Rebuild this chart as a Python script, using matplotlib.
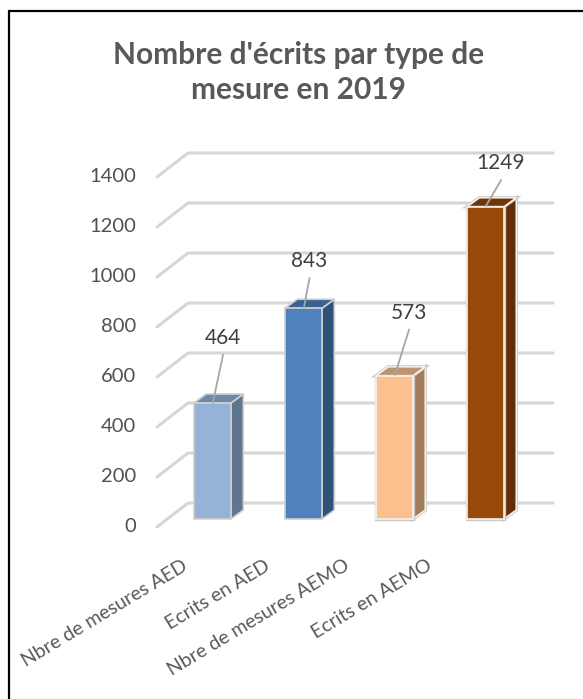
# Nombre d'ecrits par type de mesure - fake 3D column chart
import matplotlib
matplotlib.use("Agg")
import matplotlib.pyplot as plt
from matplotlib.patches import Polygon
import matplotlib.patheffects as pe

plt.rcParams["font.family"] = ["Lato", "DejaVu Sans"]

categories = ["Nbre de mesures AED", "Ecrits en AED",
              "Nbre de mesures AEMO", "Ecrits en AEMO"]
values = [464, 843, 573, 1249]
y_ticks = [0, 200, 400, 600, 800, 1000, 1200, 1400]

front_colors = ["#95B3D7", "#4F81BD", "#FCC08E", "#984807"]
side_colors = ["#5F7590", "#2F5279", "#A37C5B", "#622D04"]
top_colors = ["#6E88AB", "#3A6190", "#BE9370", "#723605"]
edge_colors = ["#CFCFCF", "#CFCFCF", "#F6F2EE", "#F6F2EE"]

W, H = 583, 699
PX_X = 91.0      # pixels between two categories
PX_Y = 0.25      # pixels for one unit of value
X0 = 212.5       # pixel of first category
Y0 = 519.0       # pixel of value 0 at the bar front

fig = plt.figure(figsize=(W / 100, H / 100), dpi=100)
ax = fig.add_axes([0, 0, 1, 1])
ax.set_xlim(-X0 / PX_X, (W - X0) / PX_X)
ax.set_ylim((Y0 - H) / PX_Y, Y0 / PX_Y)
ax.axis("off")


def dx(px):
    return px / PX_X


def dy(px):
    return px / PX_Y


def to_x(px):
    return (px - X0) / PX_X


# frame, only left and top show in the picture
ax.plot([to_x(8.5), to_x(8.5), to_x(W)], [dy(Y0 - H), dy(Y0 - 10.5), dy(Y0 - 10.5)],
        color="black", lw=1.6, solid_joinstyle="miter", zorder=1)

# wall and floor gridlines
for v in y_ticks:
    ax.plot([to_x(157), to_x(188), to_x(553)],
            [v + dy(-8), v + dy(16), v + dy(16)],
            color="#D6D6D6", lw=2.2, solid_capstyle="round", zorder=1)
    ax.text(to_x(136), v + dy(-8), str(v), ha="right", va="center",
            fontsize=14.5, color="#505050")

# bars with side and top faces
width = 37 / PX_X
depth_x = dx(12.3)
depth_y = dy(9)
for i, v in enumerate(values):
    l = i - width / 2
    r = i + width / 2
    outline = [pe.withStroke(linewidth=2.4, foreground="#C8C8C8")] if i >= 2 else []
    side = Polygon([(r, 0), (r + depth_x, depth_y), (r + depth_x, v + depth_y), (r, v)],
                   facecolor=side_colors[i], edgecolor=edge_colors[i], lw=1.2, zorder=2)
    top = Polygon([(l, v), (l + depth_x, v + depth_y), (r + depth_x, v + depth_y), (r, v)],
                  facecolor=top_colors[i], edgecolor=edge_colors[i], lw=1.2, zorder=2)
    side.set_path_effects(outline)
    top.set_path_effects(outline)
    ax.add_patch(side)
    ax.add_patch(top)
    bars = ax.bar(i, v, width=width, color=front_colors[i],
                  edgecolor=edge_colors[i], lw=1.2, zorder=3)
    bars[0].set_path_effects(outline)

# data labels with leader lines
label_dx = [10.5, 6, 14.5, 15.5]
label_dy = [65, 47, 63, 43.5]
for i, v in enumerate(values):
    ax.plot([i + dx(0.5), i + dx(label_dx[i])], [v + dy(1), v + dy(label_dy[i] - 17)],
            color="#A6A6A6", lw=1.3, zorder=4)
    ax.text(i + dx(label_dx[i]), v + dy(label_dy[i]), str(v), ha="center", va="center",
            fontsize=15, color="#404040", zorder=5)

# category labels
label_right = [182, 264, 344, 426]
for name, px in zip(categories, label_right):
    ax.text(to_x(px), dy(Y0 - 557), name, rotation=31, rotation_mode="anchor",
            ha="right", va="top", fontsize=14, color="#595959")

# title
ax.text(to_x(298.5), dy(Y0 - 55), "Nombre d'écrits par type de", ha="center", va="center",
        fontsize=21.5, fontweight="bold", color="#595959")
ax.text(to_x(298.5), dy(Y0 - 90), "mesure en 2019", ha="center", va="center",
        fontsize=21.5, fontweight="bold", color="#595959")

fig.savefig("out.png", dpi=100)
